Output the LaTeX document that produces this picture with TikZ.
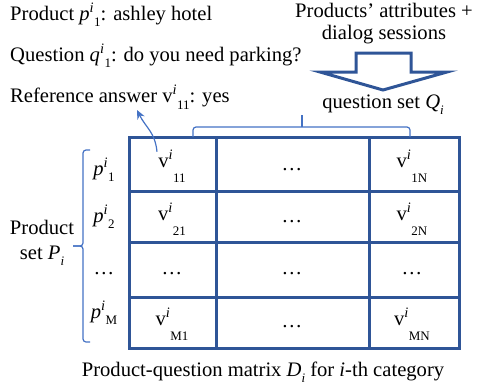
\documentclass[tikz,border=0pt]{standalone}
\usepackage{fontspec}
\setmainfont{Liberation Serif}
\usetikzlibrary{arrows.meta}
\definecolor{gridblue}{HTML}{2F5597}
\definecolor{lightblue}{HTML}{4472C4}
\newcommand\subsz{\fontsize{13}{13}\selectfont}
\newcommand\pvar[3]{\textit{#1}\textsuperscript{\itshape #2}\raisebox{-0.3em}{\subsz #3}}
\newcommand\cellv[1]{v\textsuperscript{\itshape i}\raisebox{-0.75em}{\subsz #1}}
\begin{document}
\begin{tikzpicture}[x=1pt,y=-1pt,
  txt/.style={font=\fontsize{20.6}{22}\selectfont, inner sep=0pt},
  celltxt/.style={font=\fontsize{20.6}{22}\selectfont, inner sep=0pt},
  gridline/.style={draw=gridblue, line width=3pt},
  bracket/.style={draw=lightblue, line width=1.2pt, rounded corners=3pt},
  pointer/.style={draw=lightblue, line width=1.2pt, -{Stealth[length=9pt,width=8pt]}}]
\useasboundingbox (0,0) rectangle (478,391);
% top texts
\node[txt, anchor=base west] (prod) at (10,20) {Product \pvar{p}{i}{1}: ashley hotel};
\node[txt, anchor=base west] (ques) at (10,61) {Question \pvar{q}{i}{1}: do you need parking?};
\node[txt, anchor=base west] (ans) at (10,102) {Reference answer v\textsuperscript{\itshape i}\raisebox{-0.35em}{\subsz 11}: yes};
\node[txt, anchor=base] (src1) at (384,17) {Products' attributes +};
\node[txt, anchor=base] (src2) at (384,39) {dialog sessions};
\node[txt, anchor=base] (qset) at (383,108) {question set \textit{Q}\raisebox{-0.3em}{\subsz\itshape i}};
% big hollow arrow
\draw[gridblue, line width=3pt, line join=miter]
  (356,53) -- (411,53) -- (411,72) -- (447,72) -- (383,90) -- (320,72) -- (356,72) -- cycle;
% grid
\draw[gridline] (129,137) rectangle (459,348);
\foreach \x in {216,369} \draw[gridline] (\x,137) -- (\x,348);
\foreach \y in {191,242,297} \draw[gridline] (129,\y) -- (459,\y);
% cells
\node[celltxt, anchor=base] (c11) at (172,167) {\cellv{11}};
\node[celltxt, anchor=base] (c12) at (292,170) {\ldots};
\node[celltxt, anchor=base] (c13) at (412,167) {\cellv{1N}};
\node[celltxt, anchor=base] (c21) at (172,220) {\cellv{21}};
\node[celltxt, anchor=base] (c22) at (292,222) {\ldots};
\node[celltxt, anchor=base] (c23) at (412,220) {\cellv{2N}};
\node[celltxt, anchor=base] (c31) at (172,274) {\ldots};
\node[celltxt, anchor=base] (c32) at (292,274) {\ldots};
\node[celltxt, anchor=base] (c33) at (412,274) {\ldots};
\node[celltxt, anchor=base] (c41) at (172,325) {\cellv{M1}};
\node[celltxt, anchor=base] (c42) at (292,327) {\ldots};
\node[celltxt, anchor=base] (c43) at (412,325) {\cellv{MN}};
% row labels
\node[celltxt, anchor=base] (p1) at (104,175) {\pvar{p}{i}{1}};
\node[celltxt, anchor=base] (p2) at (104,222) {\pvar{p}{i}{2}};
\node[celltxt, anchor=base] (p3) at (104,274) {\ldots};
\node[celltxt, anchor=base] (pM) at (104,318) {\pvar{p}{i}{M}};
\node[txt, anchor=base] (pset1) at (42,234) {Product};
\node[txt, anchor=base] (pset2) at (42,259) {set \textit{P}\raisebox{-0.3em}{\subsz\itshape i}};
% braces
\draw[bracket] (90,150) -- (83,150) -- (83,246) -- (73,246);
\draw[bracket] (73,246) -- (83,246) -- (83,342) -- (90,342);
\draw[bracket] (193,137) -- (193,127) -- (410,127) -- (410,137);
\draw[lightblue, line width=1.2pt] (302,127) -- (302,115);
% caption
\node[txt, anchor=base] (cap) at (263,376) {Product-question matrix \textit{D}\raisebox{-0.3em}{\subsz\itshape i} for \textit{i}-th category};
% pointer
\coordinate (pstart) at ([xshift=-15pt,yshift=-2pt]c11.north);
\coordinate (ptip) at (137,110);
\draw[pointer] (pstart) .. controls (155,132) and (146,128) .. (ptip);
\end{tikzpicture}
\end{document}
